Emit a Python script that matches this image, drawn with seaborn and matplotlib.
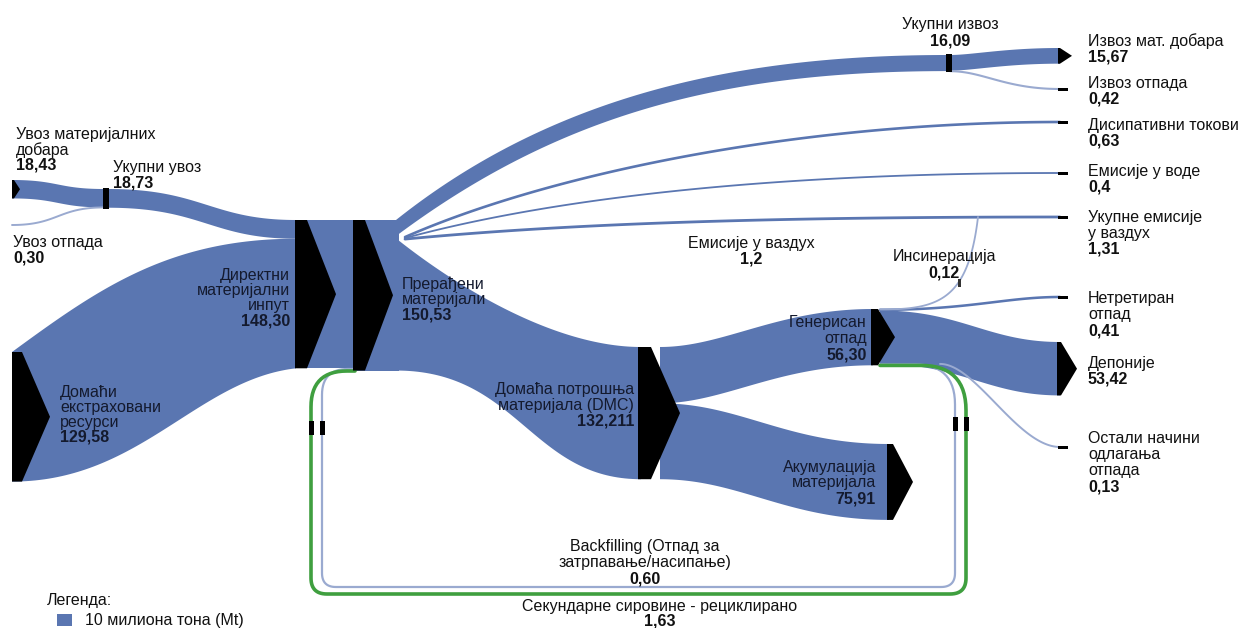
import numpy as np
import seaborn as sns
import matplotlib.pyplot as plt
from matplotlib.patches import Polygon, Rectangle

# values in Mt, as printed on the chart
keys = ["imp_goods", "imp_waste", "imp_total", "dom_extr", "dmi", "processed",
        "exp_total", "exp_goods", "exp_waste", "dissip", "water", "air", "air_total",
        "dmc", "waste", "accum", "incin", "untreated", "landfill", "other",
        "backfill", "recycl"]
values = [18.43, 0.30, 18.73, 129.58, 148.30, 150.53,
          16.09, 15.67, 0.42, 0.63, 0.4, 1.2, 1.31,
          132.211, 56.30, 75.91, 0.12, 0.41, 53.42, 0.13,
          0.60, 1.63]
value_text = ["18,43", "0,30", "18,73", "129,58", "148,30", "150,53",
              "16,09", "15,67", "0,42", "0,63", "0,4", "1,2", "1,31",
              "132,211", "56,30", "75,91", "0,12", "0,41", "53,42", "0,13",
              "0,60", "1,63"]
names = ["Увоз материјалних\nдобара", "Увоз отпада", "Укупни увоз",
         "Домаћи\nекстраховани\nресурси", "Директни\nматеријални\nинпут",
         "Прерађени\nматеријали", "Укупни извоз", "Извоз мат. добара",
         "Извоз отпада", "Дисипативни токови", "Емисије у воде",
         "Емисије у ваздух", "Укупне емисије\nу ваздух",
         "Домаћа потрошња\nматеријала (DMC)", "Генерисан\nотпад",
         "Акумулација\nматеријала", "Инсинерација", "Нетретиран\nотпад",
         "Депоније", "Остали начини\nодлагања\nотпада",
         "Backfilling (Отпад за\nзатрпавање/насипање)",
         "Секундарне сировине - рециклирано"]
legend_text = ["Легенда:", "10 милиона тона (Mt)"]

V = dict(zip(keys, values))
T = dict(zip(keys, value_text))
N = dict(zip(keys, names))

BLUE = "#5a76b1"
THIN = "#5a76b1"
PALE = "#9aaad0"
GREEN = "#3f9f3f"
TXT = "#111111"
NODE_TXT = "#141a2e"
FS = 11.5
S = 1.0      # px per Mt
MINW = 1.6

sns.set_theme(style="white")
plt.rcParams["font.family"] = ["Liberation Sans", "DejaVu Sans"]

fig = plt.figure(figsize=(12.44, 6.28), dpi=100)
ax = fig.add_axes([0, 0, 1, 1])
ax.set_xlim(0, 1244)
ax.set_ylim(628, 0)
ax.axis("off")


def w(k):
    return max(V[k] * S, MINW)


def curve(x0, y0, x1, y1, c0=0.5, k0=0.0, c1=0.5, k1=0.0, n=80):
    dx, dy = x1 - x0, y1 - y0
    p = np.array([[x0, y0], [x0 + c0 * dx, y0 + k0 * dy],
                  [x1 - c1 * dx, y1 - k1 * dy], [x1, y1]])
    t = np.linspace(0, 1, n)[:, None]
    return ((1 - t) ** 3 * p[0] + 3 * (1 - t) ** 2 * t * p[1]
            + 3 * (1 - t) * t ** 2 * p[2] + t ** 3 * p[3])


def band(k, x0, y0, x1, y1, top=(.5, 0, .5, 0), bot=None, color=BLUE):
    bot = bot or top
    a = curve(x0, y0, x1, y1, *top)
    b = curve(x0, y0 + w(k), x1, y1 + w(k), *bot)
    poly = np.vstack([a, b[::-1]])
    ax.fill(poly[:, 0], poly[:, 1], color=color, lw=0, zorder=2)


def thin(k, x0, y0, x1, y1, shape=(.5, 0, .5, 0), color=THIN, lw=None):
    c = curve(x0, y0, x1, y1, *shape)
    sns.lineplot(x=c[:, 0], y=c[:, 1], sort=False, estimator=None, ax=ax,
                 color=color, lw=lw or w(k) * 0.9 + 0.4, zorder=3)


def chevron(x, y0, h, rect, tip):
    pts = [(x, y0), (x + rect, y0), (x + tip, y0 + h / 2), (x + rect, y0 + h), (x, y0 + h)]
    ax.add_patch(Polygon(pts, closed=True, color="black", lw=0, zorder=5))


def bar(x, y0, h, bw=6):
    ax.add_patch(Rectangle((x, y0 - 1), bw, h + 2, color="black", lw=0, zorder=5))


def dash(x, y):
    ax.add_patch(Rectangle((x, y - 1.5), 10, 3, color="black", lw=0, zorder=5))


def rounded(points, radii, n=16):
    pts = np.array(points, float)
    out = [pts[0]]
    for i in range(1, len(pts) - 1):
        p0, p1, p2 = pts[i - 1], pts[i], pts[i + 1]
        d0 = (p1 - p0) / np.linalg.norm(p1 - p0)
        d1 = (p2 - p1) / np.linalg.norm(p2 - p1)
        a, b = p1 - d0 * radii[i - 1], p1 + d1 * radii[i - 1]
        t = np.linspace(0, 1, n)[:, None]
        out.extend((1 - t) ** 2 * a + 2 * (1 - t) * t * p1 + t ** 2 * b)
    out.append(pts[-1])
    return np.array(out)


def label(x, y, k, ha="left", lh=15.5, color=TXT, size=FS):
    lines = N[k].split("\n")
    for i, s in enumerate(lines):
        ax.text(x, y + i * lh, s, ha=ha, va="baseline", fontsize=size, color=color, zorder=6)
    ax.text(x, y + len(lines) * lh, T[k], ha=ha, va="baseline", fontsize=size,
            fontweight="bold", color=color, zorder=6)


# ---- inputs ----
band("imp_goods", 12, 180, 104, 189)
thin("imp_waste", 12, 225, 104, 189 + w("imp_goods"), color=PALE, lw=1.4)
band("imp_total", 108, 189, 296, 220, top=(.5, 0, .45, 0))
band("dom_extr", 12, 352, 296, 220 + V["imp_total"] * S,
     top=(.3, .55, .45, 0), bot=(.45, 0, .35, .1))

# DMI -> processed block
ax.add_patch(Rectangle((295, 220), 60, V["dmi"] * S, color=BLUE, lw=0, zorder=2))
ax.add_patch(Rectangle((353, 220), 46, V["processed"] * S, color=BLUE, lw=0, zorder=2))

# ---- processed materials outputs ----
y_exp = 220
band("exp_total", 396, y_exp, 948, 55, top=(.3, .8, .35, 0), bot=(.3, .75, .4, 0))
y_thin = y_exp + V["exp_total"] * S + 1.0
thin("dissip", 405, y_thin, 1060, 122, shape=(.22, .55, .4, 0), lw=1.9)
thin("water", 405, y_thin + 1, 1060, 173, shape=(.22, .6, .45, 0), lw=1.3)
thin("air", 405, y_thin + 2, 1060, 217, shape=(.25, .7, .45, 0), lw=2.0)
y_dmc = y_exp + (V["processed"] - V["dmc"]) * S
band("dmc", 396, y_dmc, 641, 347, top=(.25, .45, .35, 0), bot=(.5, 0, .45, 0))

# exports split
band("exp_goods", 950, 55, 1060, 48, top=(.2, 0, .5, 0))
thin("exp_waste", 950, 55 + V["exp_goods"] * S + 0.5, 1060, 89, shape=(.3, 0, .5, 0), color=PALE, lw=1.5)

# DMC split
band("waste", 660, 347, 873, 309, top=(.3, 0, .45, 0))
band("accum", 660, 347 + V["waste"] * S, 889, 444, top=(.35, 0, .45, 0))

# generated waste outputs
y_w = 309
thin("untreated", 880, y_w + 0.8, 1060, 297, shape=(.5, 0, .3, 0))
thin("incin", 880, y_w + 0.5, 978, 217, shape=(.6, 0, .1, .9), color=PALE, lw=1.3)
ax.add_patch(Rectangle((958, 279), 2.5, 8, color="#333333", lw=0, zorder=4))
band("landfill", 880, y_w + 1.5, 1060, 342, top=(.45, 0, .4, 0))
y_l = y_w + 1.5 + V["landfill"] * S
thin("other", 940, y_l, 1060, 447, shape=(.3, 0, .35, 0), color=PALE, lw=1.4)

# recycling loops back to processed materials
bf = rounded([(880, y_l + 0.5), (955, y_l + 0.5), (955, 587), (322, 587), (322, 369), (355, 369)],
             [40, 14, 14, 26])
rc = rounded([(880, y_l + 1.5), (966, y_l + 1.5), (966, 594), (311, 594), (311, 371), (355, 371)],
             [45, 16, 16, 36])
sns.lineplot(x=bf[:, 0], y=bf[:, 1], sort=False, estimator=None, ax=ax, color=PALE, lw=1.6, zorder=3)
sns.lineplot(x=rc[:, 0], y=rc[:, 1], sort=False, estimator=None, ax=ax, color=GREEN, lw=2.6, zorder=3)
for x, y in [(311, 428), (322, 428), (955, 424), (966, 424)]:
    ax.add_patch(Rectangle((x - 2.5, y - 7), 5, 14, color="black", lw=0, zorder=5))

# ---- nodes ----
chevron(12, 180, V["imp_goods"] * S, 2, 8)
bar(103, 189, V["imp_total"] * S)
chevron(12, 352, V["dom_extr"] * S, 10, 38)
chevron(295, 220, V["dmi"] * S, 12, 41)
chevron(353, 220, V["processed"] * S, 12, 40)
chevron(638, 347, V["dmc"] * S, 13, 42)
chevron(871, 309, V["waste"] * S, 7, 24)
chevron(887, 444, V["accum"] * S, 6, 26)
bar(946, 55, V["exp_total"] * S)
chevron(1058, 48, V["exp_goods"] * S, 2, 14)
chevron(1057, 342, V["landfill"] * S, 4, 20)
for y in [89, 122, 173, 217, 297, 447]:
    dash(1058, y)

# ---- labels ----
label(16, 139, "imp_goods")
label(113, 172, "imp_total")
label(13, 247, "imp_waste")
label(290, 280, "dmi", ha="right", lh=15, color=NODE_TXT)
label(402, 289, "processed", lh=15, color=NODE_TXT)
label(60, 397, "dom_extr", lh=15, color=NODE_TXT)
label(634, 394, "dmc", ha="right", lh=16, color=NODE_TXT)
label(867, 327, "waste", ha="right", lh=16, color=NODE_TXT)
label(876, 472, "accum", ha="right", lh=15.5, color=NODE_TXT)
label(751, 248, "air", ha="center", lh=16)
label(944, 261, "incin", ha="center", lh=16)
label(950, 29, "exp_total", ha="center", lh=16)
label(1088, 46, "exp_goods", lh=16)
label(1088, 88, "exp_waste", lh=16)
label(1088, 130, "dissip", lh=16)
label(1088, 176, "water", lh=16)
label(1088, 222, "air_total", lh=16)
label(1088, 303, "untreated", lh=16)
label(1088, 368, "landfill", lh=16)
label(1088, 443, "other", lh=16)
label(645, 551, "backfill", ha="center", lh=16)
label(660, 611, "recycl", ha="center", lh=14)

ax.text(47, 605, legend_text[0], fontsize=FS, color=TXT, va="baseline")
ax.add_patch(Rectangle((57, 614), 15, 12, color=BLUE, lw=0))
ax.text(85, 625, legend_text[1], fontsize=FS, color=TXT, va="baseline")

fig.savefig("out.png", dpi=100)
